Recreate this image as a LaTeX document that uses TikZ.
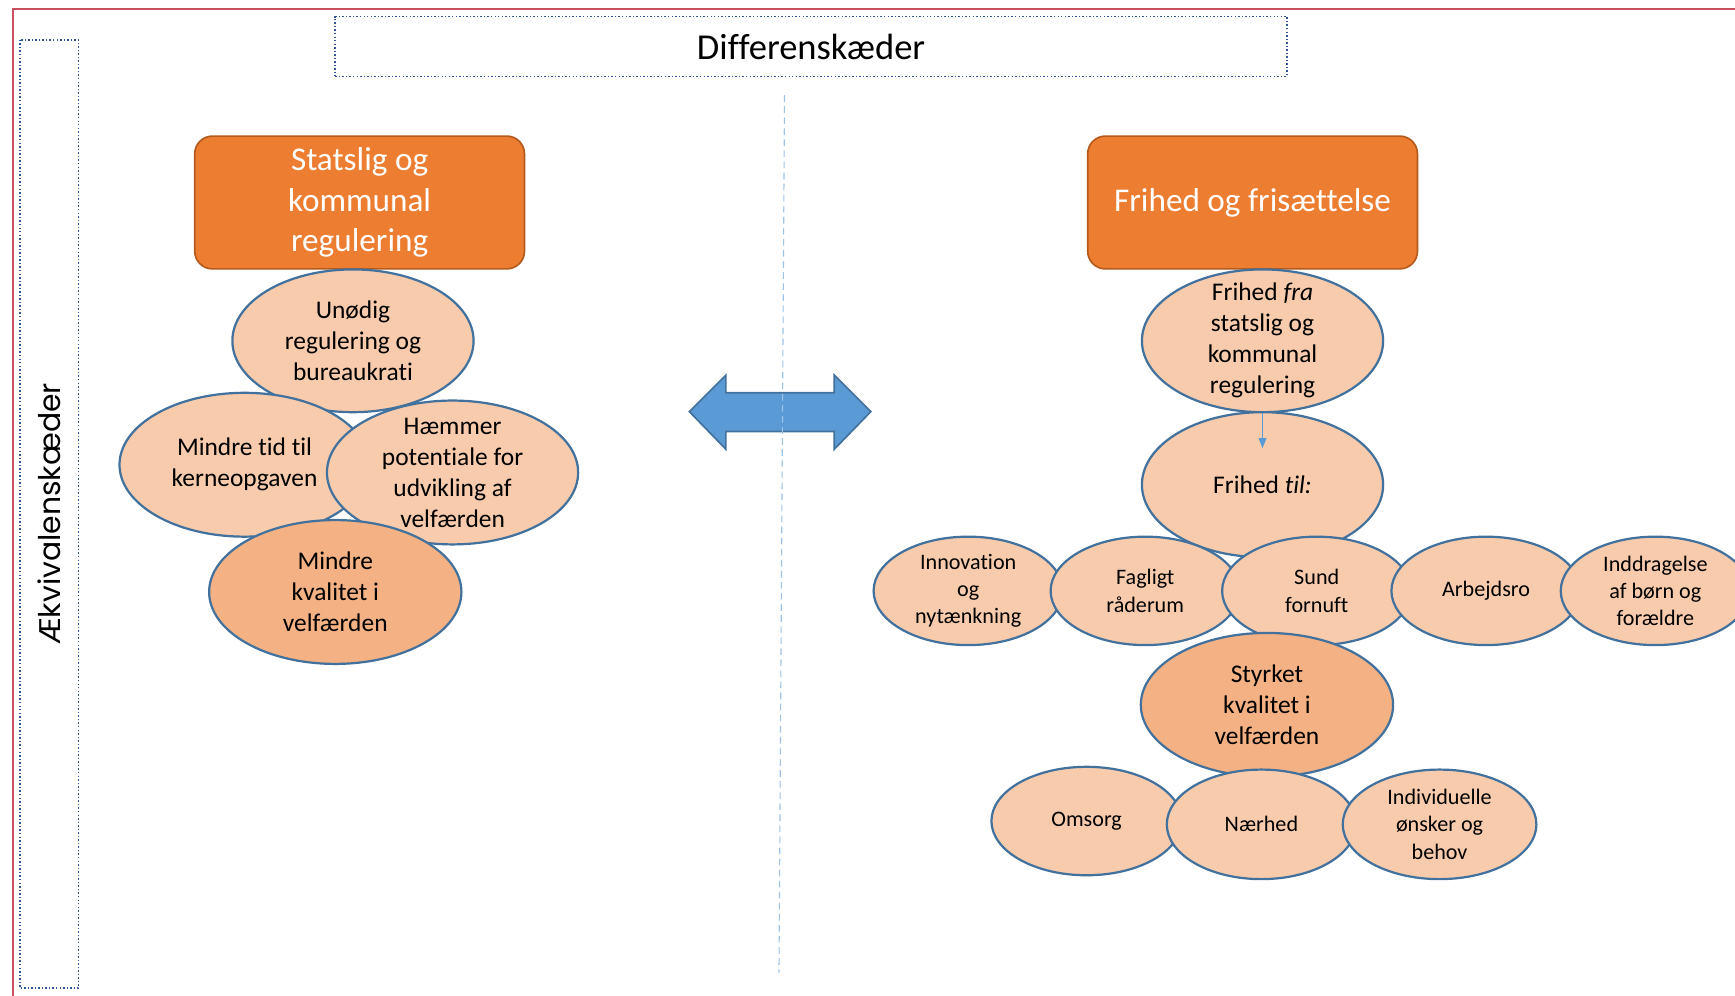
\documentclass[tikz,border=0pt]{standalone}
\usepackage{fontspec}
\setmainfont{Carlito}[Ligatures=NoCommon]
\newfontfamily\gothic{Poppins}
\usetikzlibrary{shapes.geometric,arrows.meta}
\definecolor{orangefill}{HTML}{ED7D31}
\definecolor{orangeline}{HTML}{B65A1C}
\definecolor{peach}{HTML}{F8CBAD}
\definecolor{peachdark}{HTML}{F4B183}
\definecolor{blueline}{HTML}{41719C}
\definecolor{bluefill}{HTML}{5B9BD5}
\definecolor{dotblue}{HTML}{2F5597}
\definecolor{redline}{HTML}{C9505E}
\definecolor{dashblue}{HTML}{9DC3E6}
\begin{document}
\begin{tikzpicture}[x=1pt,y=-1pt,
  headbox/.style={rectangle, rounded corners=16pt, draw=orangeline, line width=1.5pt, fill=orangefill, text=white, minimum width=298pt, minimum height=120pt, align=center, inner sep=0pt, font=\fontsize{30}{36.5}\selectfont},
  bubble/.style={ellipse, draw=blueline, line width=2pt, fill=peach, align=center, inner xsep=0pt, inner ysep=-30pt},
  bigbubble/.style={bubble, minimum width=218pt, minimum height=129pt, font=\fontsize{23}{28}\selectfont},
  midbubble/.style={bubble, minimum width=227pt, minimum height=130pt, font=\fontsize{23}{28}\selectfont},
  smallbubble/.style={bubble, minimum width=171pt, minimum height=98pt, font=\fontsize{20}{24.5}\selectfont},
  dotbox/.style={rectangle, draw=dotblue, line width=1.5pt, dash pattern=on 1.3pt off 1.9pt, inner sep=0pt},
  connector/.style={draw=bluefill, line width=1pt, -{Triangle[length=9pt,width=7pt]}}
]
\useasboundingbox[fill=white] (0,0) rectangle (1568,900);
% red frame
\coordinate (rtl) at (12,8);
\coordinate (rtr) at (1575,8);
\coordinate (rbl) at (12,905);
\draw[redline, line width=1.7pt] (rbl) -- (rtl) -- (rtr);

% title boxes
\node[dotbox, minimum width=860pt, minimum height=54pt, font=\fontsize{33}{40}\selectfont] (diff) at (733,42) {Differenskæder};
\node[dotbox, rotate=90, minimum width=857pt, minimum height=53pt, font=\gothic\fontsize{27}{30}\selectfont] (aekv) at (44.5,464.5) {Ækvivalenskæder};

% double arrow
\draw[fill=bluefill, draw=blueline, line width=1.5pt, line join=miter]
  (623,372) -- (656,339) -- (656,355) -- (754,355) -- (754,339) -- (787,372)
  -- (754,406) -- (754,390) -- (656,390) -- (656,406) -- cycle;

% dashed divider
\coordinate (divtop) at (709,86);
\coordinate (divbot) at (704,879);
\draw[dashblue, line width=1pt, dash pattern=on 6pt off 4pt] (divtop) -- (divbot);

% left chain
\node[headbox] (stat) at (325,183) {Statslig og\\kommunal\\regulering};
\node[bigbubble] (unod) at (319,308) {Unødig\\regulering og\\bureaukrati};
\node[midbubble, minimum width=226pt] (tid) at (221,420) {Mindre tid til\\kerneopgaven};
\node[midbubble] (haem) at (409,427) {Hæmmer\\potentiale for\\udvikling af\\velfærden};
\node[midbubble, minimum width=228pt, fill=peachdark] (mkval) at (303,535) {Mindre\\kvalitet i\\velfærden};

% right chain
\node[headbox] (frih) at (1132,183) {Frihed og frisættelse};
\node[bigbubble] (fra) at (1141,308) {Frihed \textit{fra}\\statslig og\\kommunal\\regulering};
\node[bigbubble, minimum height=131pt] (til) at (1141,438) {Frihed \textit{til:}};
\node[smallbubble] (innov) at (875,534) {Innovation\\og\\nytænkning};
\node[smallbubble] (fagl) at (1035,534) {Fagligt\\råderum};
\node[smallbubble] (sund) at (1190,534) {Sund\\fornuft};
\node[smallbubble] (arb) at (1343,534) {Arbejdsro};
\node[smallbubble] (indd) at (1496,534) {Inddragelse\\af børn og\\forældre};
\node[midbubble, minimum width=228pt, fill=peachdark] (styrk) at (1145,637) {Styrket\\kvalitet i\\velfærden};
\node[smallbubble, minimum width=172pt] (oms) at (982,742) {Omsorg};
\node[smallbubble, minimum height=99pt] (naer) at (1140,745) {Nærhed};
\node[smallbubble, minimum width=175pt, minimum height=99pt] (indiv) at (1301,745) {Individuelle\\ønsker og\\behov};

% small arrow
\coordinate (tiltip) at (1141,405);
\draw[connector] (fra.south) -- (tiltip);
\end{tikzpicture}
\end{document}
